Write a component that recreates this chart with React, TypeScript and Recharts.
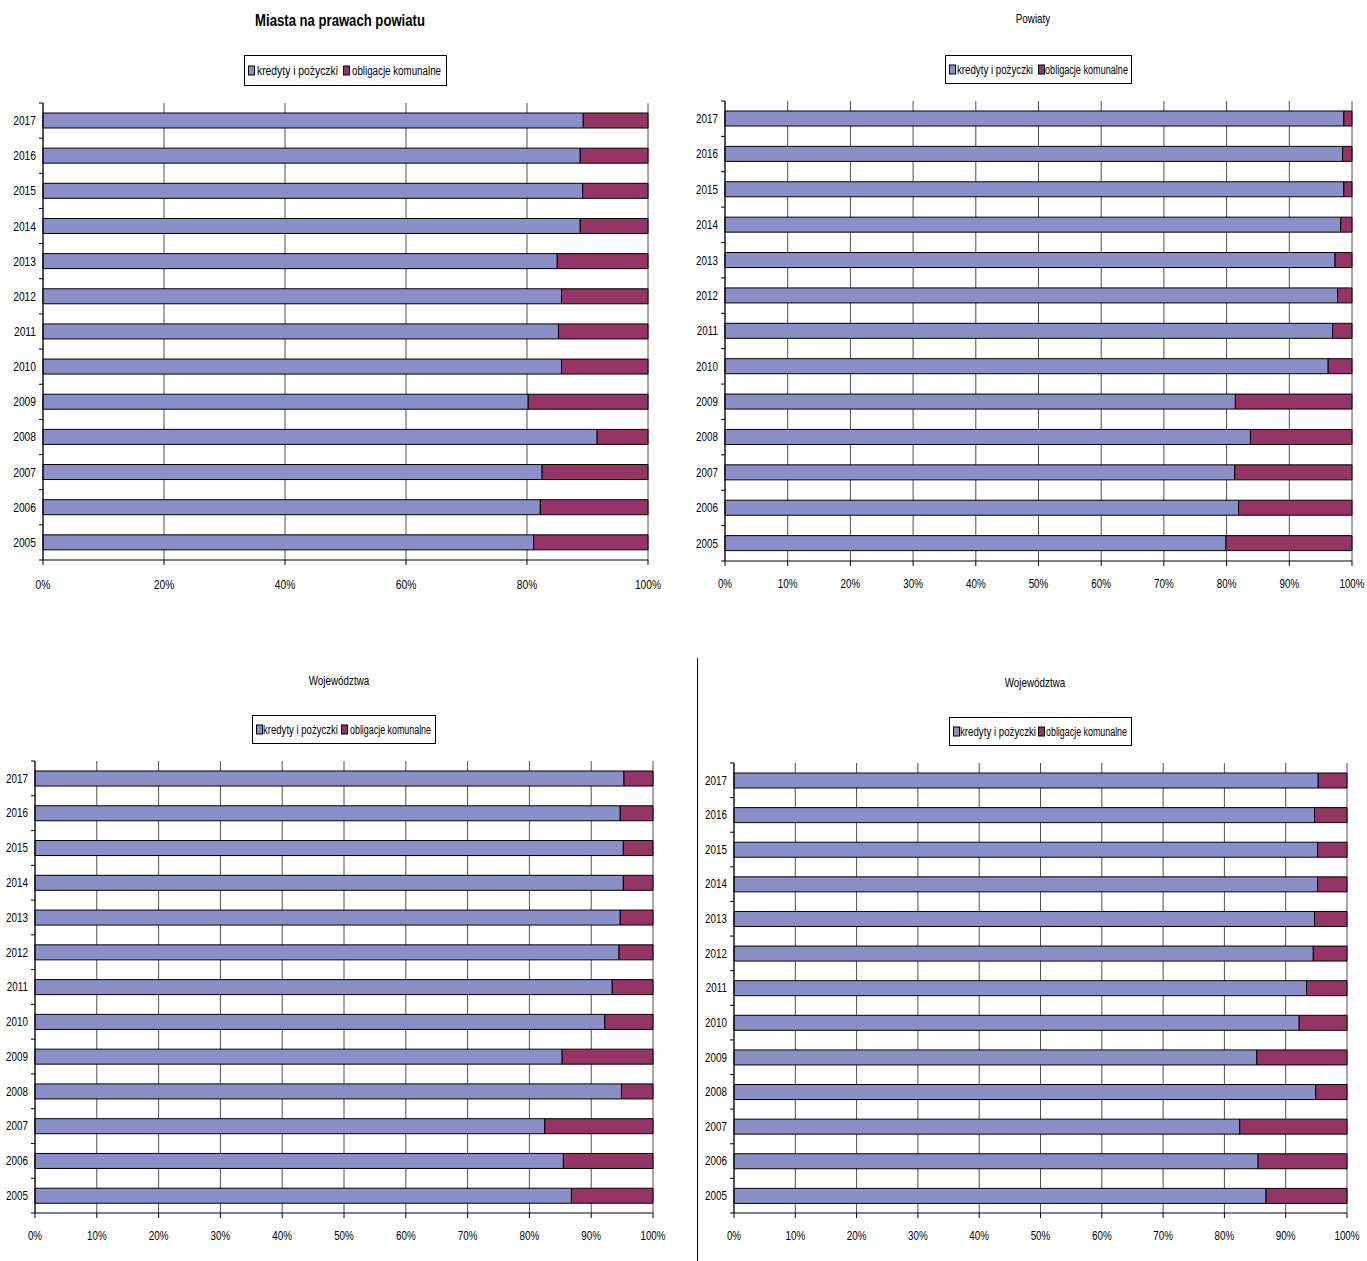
import React from 'react';
import { BarChart, Bar, XAxis, YAxis, CartesianGrid } from 'recharts';

// Years shown on the category axis (2005 at the bottom, 2017 on top)
const YEARS = ['2005', '2006', '2007', '2008', '2009', '2010', '2011', '2012', '2013', '2014', '2015', '2016', '2017'];

// Miasta na prawach powiatu – structure of debt (%)
const MIASTA_KREDYTY = [81.1, 82.2, 82.5, 91.6, 80.2, 85.7, 85.2, 85.7, 85.0, 88.8, 89.2, 88.8, 89.3];
const MIASTA_OBLIGACJE = [18.9, 17.8, 17.5, 8.4, 19.8, 14.3, 14.8, 14.3, 15.0, 11.2, 10.8, 11.2, 10.7];

// Powiaty
const POWIATY_KREDYTY = [79.9, 81.9, 81.3, 83.8, 81.4, 96.2, 96.9, 97.7, 97.3, 98.2, 98.7, 98.5, 98.7];
const POWIATY_OBLIGACJE = [20.1, 18.1, 18.7, 16.2, 18.6, 3.8, 3.1, 2.3, 2.7, 1.8, 1.3, 1.5, 1.3];

// Województwa
const WOJ_KREDYTY = [86.8, 85.5, 82.5, 94.9, 85.3, 92.2, 93.4, 94.5, 94.7, 95.2, 95.2, 94.7, 95.3];
const WOJ_OBLIGACJE = [13.2, 14.5, 17.5, 5.1, 14.7, 7.8, 6.6, 5.5, 5.3, 4.8, 4.8, 5.3, 4.7];

const TICKS_20 = [0, 20, 40, 60, 80, 100];
const TICKS_10 = [0, 10, 20, 30, 40, 50, 60, 70, 80, 90, 100];

const SERIES_NAMES = ['kredyty i pożyczki', 'obligacje komunalne'];
const COLOR_KREDYTY = '#8a8fc7';
const COLOR_OBLIGACJE = '#953565';
const GRID = '#505050';
const FONT = "'Liberation Sans', Arial, sans-serif";
// horizontal squeeze that turns the regular face into a narrow one
const NARROW = 0.82;

const buildRows = (k: number[], o: number[]) =>
  YEARS.map((year, i) => ({ year, kredyty: k[i], obligacje: o[i] }));

function NarrowSvgText({
  x,
  y,
  anchor,
  size,
  children,
}: {
  x: number;
  y: number;
  anchor: 'start' | 'middle' | 'end';
  size: number;
  children: React.ReactNode;
}) {
  return (
    <text
      transform={`translate(${x} ${y}) scale(${NARROW} 1)`}
      x={0}
      y={0}
      dy="0.36em"
      textAnchor={anchor}
      fontFamily={FONT}
      fontSize={size}
      fill="#000"
    >
      {children}
    </text>
  );
}

type LegendBox = {
  x: number;
  y: number;
  w: number;
  h: number;
  s1: number;
  t1: number;
  w1: number;
  s2: number;
  t2: number;
  w2: number;
  font: number;
};

function Legend(l: LegendBox) {
  const mid = l.h / 2;
  const label = (x: number, len: number, s: string) => (
    <text
      x={x}
      y={mid}
      dy="0.36em"
      textLength={len}
      lengthAdjust="spacingAndGlyphs"
      fontFamily={FONT}
      fontSize={l.font}
      fill="#000"
    >
      {s}
    </text>
  );
  return (
    <svg width={l.w} height={l.h} style={{ position: 'absolute', left: l.x, top: l.y, overflow: 'visible' }}>
      <rect x={0.5} y={0.5} width={l.w - 1} height={l.h - 1} fill="#fff" stroke="#000" />
      <rect x={l.s1 + 0.5} y={mid - 4.5} width={6} height={9} fill={COLOR_KREDYTY} stroke="#000" />
      {label(l.t1, l.w1, SERIES_NAMES[0])}
      <rect x={l.s2 + 0.5} y={mid - 4.5} width={6} height={9} fill={COLOR_OBLIGACJE} stroke="#000" />
      {label(l.t2, l.w2, SERIES_NAMES[1])}
    </svg>
  );
}

type PanelProps = {
  left: number;
  top: number;
  width: number;
  height: number;
  axisWidth: number;
  margin: { top: number; right: number; bottom: number };
  xTicks: number[];
  fontSize: number;
  xLabelOffset: number;
  rows: { year: string; kredyty: number; obligacje: number }[];
  title: string;
  titleBold: boolean;
  titleSize: number;
  titleX: number;
  titleY: number;
  legend: LegendBox;
};

function Panel(p: PanelProps) {
  const plotH = p.height - p.margin.top - p.margin.bottom - 30;
  const band = plotH / YEARS.length;
  const axisX = p.axisWidth;

  const yTick = (props: any) => {
    const { y, payload, index } = props;
    return (
      <g>
        <NarrowSvgText x={axisX - 7} y={y} anchor="end" size={p.fontSize}>
          {payload.value}
        </NarrowSvgText>
        <line x1={axisX - 4} x2={axisX} y1={y - band / 2} y2={y - band / 2} stroke="#000" />
        {index === 0 && <line x1={axisX - 4} x2={axisX} y1={y + band / 2} y2={y + band / 2} stroke="#000" />}
      </g>
    );
  };

  const xTick = (props: any) => {
    const { x, y, payload } = props;
    return (
      <NarrowSvgText x={x} y={y + p.xLabelOffset} anchor="middle" size={p.fontSize}>
        {`${payload.value}%`}
      </NarrowSvgText>
    );
  };

  return (
    <>
      <svg
        width={400}
        height={30}
        style={{ position: 'absolute', left: p.titleX - 200, top: p.titleY - 15, overflow: 'visible' }}
      >
        <text
          transform={`translate(200 15) scale(${NARROW} 1)`}
          dy="0.36em"
          textAnchor="middle"
          fontFamily={FONT}
          fontSize={p.titleSize}
          fontWeight={p.titleBold ? 'bold' : 'normal'}
          fill="#000"
        >
          {p.title}
        </text>
      </svg>
      <Legend {...p.legend} />
      <div style={{ position: 'absolute', left: p.left, top: p.top }}>
        <BarChart
          width={p.width}
          height={p.height}
          data={p.rows}
          layout="vertical"
          margin={{ top: p.margin.top, right: p.margin.right, bottom: p.margin.bottom, left: 0 }}
          barSize={15}
        >
          <CartesianGrid horizontal={false} vertical stroke={GRID} strokeWidth={1} />
          <XAxis
            type="number"
            domain={[0, 100]}
            ticks={p.xTicks}
            interval={0}
            height={30}
            tickSize={5}
            tickMargin={0}
            axisLine={{ stroke: '#000' }}
            tickLine={{ stroke: '#000' }}
            tick={xTick}
          />
          <YAxis
            type="category"
            dataKey="year"
            reversed
            width={p.axisWidth}
            interval={0}
            axisLine={{ stroke: '#000' }}
            tickLine={false}
            tick={yTick}
          />
          <Bar dataKey="kredyty" stackId="s" fill={COLOR_KREDYTY} stroke="#000" strokeWidth={1} isAnimationActive={false} />
          <Bar dataKey="obligacje" stackId="s" fill={COLOR_OBLIGACJE} stroke="#000" strokeWidth={1} isAnimationActive={false} />
        </BarChart>
      </div>
    </>
  );
}

export default function App() {
  const miasta = buildRows(MIASTA_KREDYTY, MIASTA_OBLIGACJE);
  const powiaty = buildRows(POWIATY_KREDYTY, POWIATY_OBLIGACJE);
  const woj = buildRows(WOJ_KREDYTY, WOJ_OBLIGACJE);

  return (
    <div
      style={{
        position: 'absolute',
        left: 0,
        top: 0,
        width: 1367,
        height: 1261,
        background: '#fff',
        overflow: 'hidden',
      }}
    >
      <Panel
        left={0}
        top={0}
        width={680}
        height={620}
        axisWidth={43}
        margin={{ top: 103, right: 32, bottom: 30 }}
        xTicks={TICKS_20}
        fontSize={12.5}
        xLabelOffset={19}
        rows={miasta}
        title="Miasta na prawach powiatu"
        titleBold
        titleSize={16}
        titleX={340}
        titleY={20}
        legend={{ x: 244, y: 55, w: 203, h: 31, s1: 4, t1: 13, w1: 81, s2: 99, t2: 108, w2: 89, font: 12.5 }}
      />
      <Panel
        left={680}
        top={0}
        width={687}
        height={620}
        axisWidth={45}
        margin={{ top: 101, right: 15, bottom: 29 }}
        xTicks={TICKS_10}
        fontSize={12}
        xLabelOffset={18}
        rows={powiaty}
        title="Powiaty"
        titleBold={false}
        titleSize={12}
        titleX={1033}
        titleY={19}
        legend={{ x: 945, y: 55, w: 187, h: 29, s1: 4, t1: 12, w1: 76, s2: 93, t2: 100, w2: 83, font: 12 }}
      />
      <Panel
        left={0}
        top={640}
        width={680}
        height={621}
        axisWidth={35}
        margin={{ top: 121, right: 27, bottom: 18 }}
        xTicks={TICKS_10}
        fontSize={12}
        xLabelOffset={18}
        rows={woj}
        title="Województwa"
        titleBold={false}
        titleSize={12}
        titleX={339}
        titleY={681}
        legend={{ x: 252, y: 715, w: 184, h: 29, s1: 4, t1: 11, w1: 75, s2: 89, t2: 98, w2: 81, font: 12 }}
      />
      <Panel
        left={680}
        top={640}
        width={687}
        height={621}
        axisWidth={54}
        margin={{ top: 123, right: 20, bottom: 18 }}
        xTicks={TICKS_10}
        fontSize={12}
        xLabelOffset={18}
        rows={woj}
        title="Województwa"
        titleBold={false}
        titleSize={12}
        titleX={1035}
        titleY={683}
        legend={{ x: 949, y: 717, w: 183, h: 29, s1: 4, t1: 11, w1: 76, s2: 89, t2: 97, w2: 81, font: 12 }}
      />
      {/* divider between the two lower panels */}
      <div style={{ position: 'absolute', left: 697, top: 658, width: 1, height: 603, background: '#000' }} />
    </div>
  );
}
